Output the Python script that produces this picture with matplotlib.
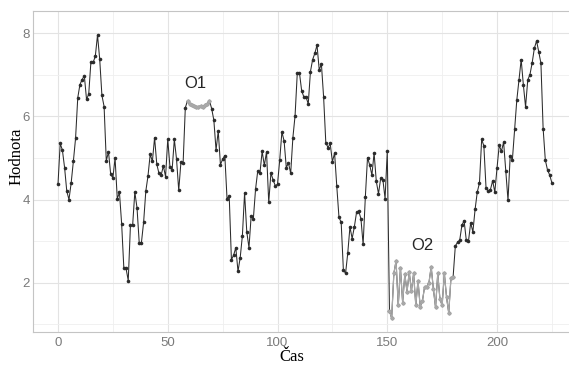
import matplotlib
matplotlib.use("Agg")
import matplotlib.pyplot as plt
import numpy as np

# hodnoty casove rady (cas 0..225)
values = [
    4.37, 5.35, 5.19, 4.77, 4.20, 4.00, 4.40, 4.92, 5.47, 6.45,
    6.77, 6.89, 6.98, 6.41, 6.54, 7.32, 7.30, 7.45, 7.96, 7.38,
    6.51, 6.24, 4.93, 5.15, 4.61, 4.52, 5.00, 4.02, 4.17, 3.41,
    2.34, 2.34, 2.05, 3.38, 3.38, 4.18, 3.80, 2.96, 2.96, 3.45,
    4.20, 4.57, 5.09, 4.92, 5.49, 4.85, 4.63, 4.59, 4.81, 4.55,
    5.45, 4.79, 4.72, 5.45, 4.97, 4.22, 4.90, 4.88, 6.21, 6.38,
    6.30, 6.27, 6.25, 6.24, 6.23, 6.26, 6.24, 6.28, 6.31, 6.38,
    6.19, 5.91, 5.19, 5.65, 4.84, 4.97, 5.06, 4.02, 4.08, 2.55,
    2.66, 2.84, 2.27, 2.60, 3.13, 4.16, 3.22, 2.84, 3.61, 3.54,
    4.25, 4.69, 4.64, 5.16, 4.82, 5.15, 3.93, 4.64, 4.47, 4.33,
    4.37, 4.95, 5.63, 5.41, 4.77, 4.88, 4.63, 5.49, 6.02, 7.04,
    7.05, 6.62, 6.47, 6.47, 6.30, 7.08, 7.37, 7.52, 7.72, 7.12,
    7.26, 6.47, 5.37, 5.25, 5.35, 4.91, 5.12, 4.32, 3.57, 3.45,
    2.31, 2.22, 2.71, 3.34, 3.06, 3.34, 3.69, 3.72, 3.54, 2.92,
    4.05, 5.01, 4.83, 4.59, 5.12, 4.44, 4.14, 4.51, 4.48, 4.02,
    5.16, 1.32, 1.14, 2.22, 2.52, 1.45, 2.35, 1.52, 2.20, 1.78,
    2.25, 1.80, 2.22, 1.45, 2.05, 1.42, 1.55, 1.90, 1.90, 2.00,
    2.38, 1.85, 1.40, 2.22, 1.60, 1.45, 2.22, 1.65, 1.27, 2.10,
    2.14, 2.88, 2.97, 3.02, 3.38, 3.49, 3.02, 3.00, 3.44, 3.22,
    3.76, 4.18, 4.40, 5.45, 5.29, 4.27, 4.21, 4.24, 4.45, 4.18,
    4.76, 5.31, 5.16, 5.38, 4.68, 3.98, 5.05, 4.96, 5.69, 6.39,
    6.88, 7.37, 6.76, 6.23, 6.88, 7.01, 7.29, 7.64, 7.82, 7.56,
    7.28, 5.71, 4.95, 4.71, 4.59, 4.40,
]
time = np.arange(len(values))

# odlehle useky (indexy od-do)
o1_range = (59, 69)
o2_range = (151, 180)
labels = ["O1", "O2"]
label_pos = [(62.5, 6.79), (166, 2.89)]

x_ticks = [0, 50, 100, 150, 200]
y_ticks = [2, 4, 6, 8]

vals = np.array(values)

fig = plt.figure(figsize=(5.69, 3.65), dpi=100)
ax = fig.add_axes([33.3 / 569, 33 / 365, 543.3 / 569, 321 / 365])

# cela rada cerne
ax.plot(time, vals, color="#2b2b2b", lw=0.75, zorder=3)
ax.plot(time, vals, "o", color="#2b2b2b", ms=2.6, mew=0, zorder=4)

# odlehle useky sede
for a, b in [o1_range, o2_range]:
    t = time[a:b + 1]
    v = vals[a:b + 1]
    ax.plot(t, v, color="#a8a8a8", lw=0.9, zorder=5)
    ax.plot(t, v, "o", color="#a8a8a8", ms=2.8, mew=0, zorder=6)

for lab, (lx, ly) in zip(labels, label_pos):
    ax.text(lx, ly, lab, fontsize=12, family="Liberation Sans", color="#262626",
            ha="center", va="center", zorder=7)

ax.set_xlim(-11.25, 236.25)
ax.set_ylim(0.81, 8.54)

ax.set_xticks(x_ticks)
ax.set_yticks(y_ticks)
ax.set_xticks([25, 75, 125, 175, 225], minor=True)
ax.set_yticks([1, 3, 5, 7], minor=True)
ax.grid(which="major", color="#e3e3e3", lw=0.8)
ax.grid(which="minor", color="#efefef", lw=0.6)
ax.set_axisbelow(True)

for s in ax.spines.values():
    s.set_color("#c4c4c4")
    s.set_linewidth(0.8)

ax.tick_params(which="both", length=0)
ax.tick_params(axis="y", pad=2.5)
ax.tick_params(axis="x", pad=3.5)
for tl in ax.get_xticklabels() + ax.get_yticklabels():
    tl.set_family("Liberation Sans")
    tl.set_fontsize(9.5)
    tl.set_color("#7a7a7a")

ax.set_xlabel("Čas", family="Liberation Serif", fontsize=12, va="center")
ax.set_ylabel("Hodnota", family="Liberation Serif", fontsize=12, va="center")
ax.xaxis.set_label_coords(0.476, -0.078)
ax.yaxis.set_label_coords(-0.030, 0.548)

fig.savefig("out.png", dpi=100)
